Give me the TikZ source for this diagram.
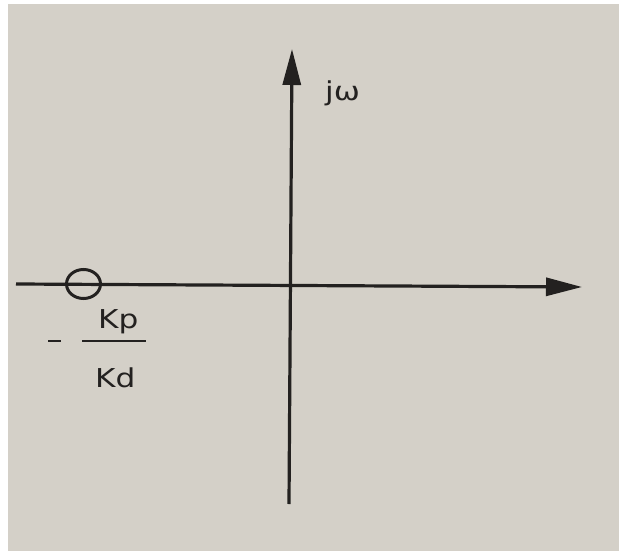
\documentclass[tikz,border=0pt]{standalone}
\usepackage{fontspec}
\setmainfont{DejaVu Sans}
\newfontfamily\widefont[FakeStretch=1.2]{DejaVu Sans}
\usetikzlibrary{arrows.meta,shapes.geometric}
\definecolor{paper}{RGB}{212,208,200}
\definecolor{ink}{RGB}{35,33,32}
\begin{document}
\begin{tikzpicture}[x=1pt,y=-1pt,
  axis/.style={draw=ink,line width=3.2pt,-{Triangle[length=36pt,width=18pt]}},
  bar/.style={draw=ink,line width=1.8pt},
  lbl/.style={text=ink,font=\widefont\fontsize{26}{30}\selectfont,inner sep=0pt,anchor=base west}]
\fill[white] (0,0) rectangle (619,551);
\useasboundingbox (0,0) rectangle (619,551);
\fill[paper] (8,4) rectangle (619,551);
\coordinate (xl) at (16,284);
\coordinate (xr) at (582,287);
\coordinate (yb) at (289,504);
\coordinate (yt) at (292,49);
\draw[axis] (xl) -- (xr);
\draw[axis] (yb) -- (yt);
\node[draw=ink,line width=3pt,ellipse,minimum width=34pt,minimum height=29pt,inner sep=0pt] (zero) at (83.5,284) {};
\node[lbl] (jw) at (325,100) {jω};
\node[lbl] (kp) at (98,328) {Kp};
\node[lbl] (kd) at (95,387) {Kd};
\coordinate (bl) at (82,341);
\coordinate (br) at (146,341);
\coordinate (ml) at (48,341);
\coordinate (mr) at (61,341);
\draw[bar] (bl) -- (br);
\draw[bar] (ml) -- (mr);
\end{tikzpicture}
\end{document}
